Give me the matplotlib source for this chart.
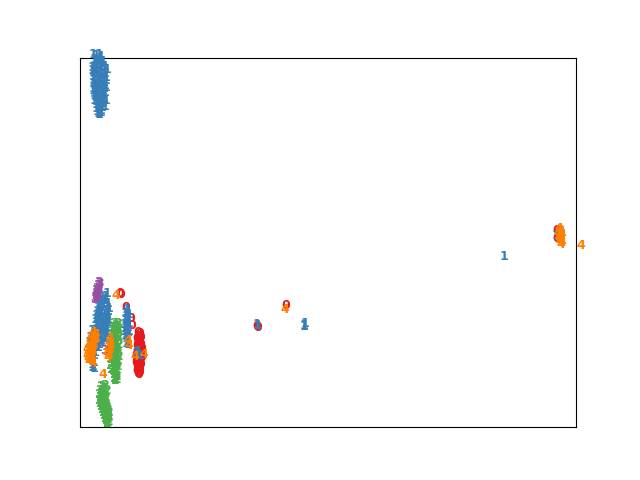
from matplotlib import pyplot as plt

# positions, in pixels from the lower left corner of the axes
one_x = [9, 12, 15, 17, 10, 13, 16, 19, 12, 15, 18, 21, 8, 10, 13, 17, 20, 23, 8, 9, 12, 15, 18, 21, 9, 13, 16, 19, 22, 9, 10, 14, 17, 20, 22, 9, 10, 12, 15, 18, 21, 9, 11, 14, 17, 20, 22, 9, 10, 13, 16, 19, 21, 10, 11, 14, 17, 20, 11, 10, 13, 16, 19, 22, 12, 15, 18, 21, 12, 15, 18, 13, 15, 17, 14, 15, 17,
         # middle cluster
         18, 21, 20, 17, 22, 24, 16, 19, 23, 25, 15, 18, 21, 24, 14, 17, 20, 23, 13, 16, 19, 22, 25, 12, 15, 18, 21, 24, 13, 16, 19, 22, 12, 14, 17, 20, 23, 13, 15, 18, 21, 14, 17, 20, 12, 15, 18,
         23, 24, 14, 13, 12, 23, 22, 24, 11, 12,
         # lower left
         8, 10, 13, 6, 9, 12, 15, 5, 7, 10, 14, 6, 8, 11, 5, 8, 11, 6, 10, 7, 9, 8, 10, 9, 8, 10,
         # second column
         43, 44, 41, 45, 42, 44, 41, 43, 45, 40, 42, 44, 41, 43, 45, 40, 42, 44, 41, 43, 42, 44, 43, 42, 44, 52, 54, 56,
         # isolated
         173, 174, 220, 220, 221, 420, 472, 475]
one_y = [369, 368, 369, 367, 364, 363, 365, 362, 359, 358, 360, 357, 356, 355, 354, 356, 353, 354, 353, 351, 350, 352, 349, 350, 347, 346, 348, 345, 346, 344, 343, 342, 344, 341, 343, 340, 339, 338, 340, 337, 338, 335, 334, 336, 333, 335, 336, 333, 331, 330, 332, 329, 331, 328, 327, 326, 328, 325, 330, 323, 322, 324, 321, 323, 319, 318, 320, 317, 315, 314, 316, 312, 311, 313, 310, 309, 311,
         126, 127, 123, 122, 124, 120, 118, 119, 117, 115, 114, 116, 113, 112, 110, 111, 109, 108, 106, 107, 105, 104, 103, 101, 102, 100, 99, 101, 97, 98, 96, 95, 92, 93, 94, 92, 90, 88, 89, 87, 86, 84, 83, 85, 80, 79, 81,
         130, 112, 116, 112, 108, 96, 92, 104, 104, 98,
         93, 90, 91, 86, 87, 84, 88, 81, 80, 83, 76, 78, 74, 77, 72, 69, 71, 66, 68, 64, 62, 59, 61, 57, 56, 55,
         114, 112, 110, 109, 107, 105, 104, 102, 100, 99, 98, 96, 95, 94, 92, 92, 90, 91, 88, 87, 85, 84, 82, 80, 79, 70, 72, 68,
         99, 98, 98, 97, 100, 167, 188, 186]
two_x = [30, 32, 34, 29, 31, 33, 35, 28, 30, 32, 34, 28, 30, 33, 35, 27, 29, 31, 34, 28, 30, 32, 35, 27, 29, 31, 33, 28, 30, 32, 34, 29, 31, 33, 35, 28, 30, 32, 34, 29, 31, 33, 30, 32, 34, 29, 31, 33, 30, 32, 31, 33, 30, 32, 31, 33,
         17, 19, 21, 16, 18, 20, 23, 15, 17, 19, 21, 16, 18, 20, 22, 15, 17, 19, 21, 16, 18, 20, 22, 17, 19, 21, 23, 18, 20, 22, 24, 19, 21, 23, 25, 20, 22, 24, 21, 23, 25, 22, 24, 23, 25, 23, 24,
         27, 27, 26, 27, 26]
two_y = [100, 98, 100, 96, 95, 97, 95, 92, 91, 93, 91, 88, 87, 89, 87, 84, 83, 85, 83, 80, 79, 81, 79, 76, 75, 77, 75, 72, 71, 73, 71, 68, 67, 69, 67, 64, 63, 65, 63, 60, 59, 61, 56, 55, 57, 53, 52, 54, 49, 48, 46, 47, 45, 44, 43, 44,
         37, 36, 38, 33, 32, 34, 33, 29, 28, 30, 29, 26, 25, 27, 26, 23, 22, 24, 23, 20, 19, 21, 20, 17, 16, 18, 17, 14, 13, 15, 14, 11, 10, 12, 11, 8, 7, 9, 5, 4, 6, 3, 4, 1, 2, 0, 1,
         70, 64, 58, 54, 76]
three_x = [14, 15, 13, 14, 12, 14, 12, 13, 11, 13, 11, 12, 10, 12, 10, 11, 20]
three_y = [141, 140, 138, 137, 135, 134, 132, 133, 130, 129, 128, 127, 126, 125, 124, 133, 73]
zero_x = [35, 36, 41, 46, 47, 172, 173, 201, 472, 474, 473, 472, 475,
          53, 55, 54, 52, 54, 56, 53, 55, 52, 54, 56, 53, 55, 57, 52, 54, 56, 51, 53, 55, 57, 52, 54, 56, 51, 53, 55, 52, 54, 56, 53, 55, 52, 54, 53, 55, 54]
zero_y = [130, 129, 116, 105, 98, 97, 96, 118, 193, 191, 188, 185, 183,
          91, 90, 87, 85, 84, 86, 81, 80, 78, 77, 79, 74, 73, 75, 71, 70, 72, 68, 67, 69, 66, 64, 63, 65, 61, 60, 62, 58, 57, 59, 55, 54, 53, 52, 50, 51, 49]
four_x = [31, 200, 474, 476, 473, 475, 477, 474, 476, 475, 477, 476, 474, 475, 496,
          8, 11, 6, 9, 5, 8, 11,
          5, 3, 6, 9, 2, 4, 7, 3, 5, 8, 2, 4, 6, 3, 5, 7, 4, 6, 8,
          25, 24, 26, 23, 25, 22, 24, 23, 18, 43, 44, 50, 59]
four_y = [128, 114, 195, 192, 190, 187, 189, 185, 184, 182, 181, 179, 186, 193, 178,
          91, 89, 87, 85, 83, 82, 84,
          79, 77, 76, 78, 74, 73, 75, 71, 70, 72, 68, 67, 69, 65, 64, 66, 62, 63, 60,
          85, 81, 78, 75, 73, 70, 68, 66, 49, 83, 78, 67, 69]


def draw(digit, xs, ys, color):
    for x, y in zip(xs, ys):
        plt.text(x, y, digit, color=color, fontdict={'weight': 'bold', 'size': 9})


plt.figure(figsize=(6.4, 4.8), dpi=100)
draw('0', zero_x, zero_y, '#e41a1c')
draw('1', one_x, one_y, '#377eb8')
draw('3', three_x, three_y, '#984ea3')
draw('2', two_x, two_y, '#4daf4a')
draw('4', four_x, four_y, '#ff7f00')
plt.xlim(0, 496)
plt.ylim(0, 369)
plt.xticks([])
plt.yticks([])
plt.savefig('out.png')
